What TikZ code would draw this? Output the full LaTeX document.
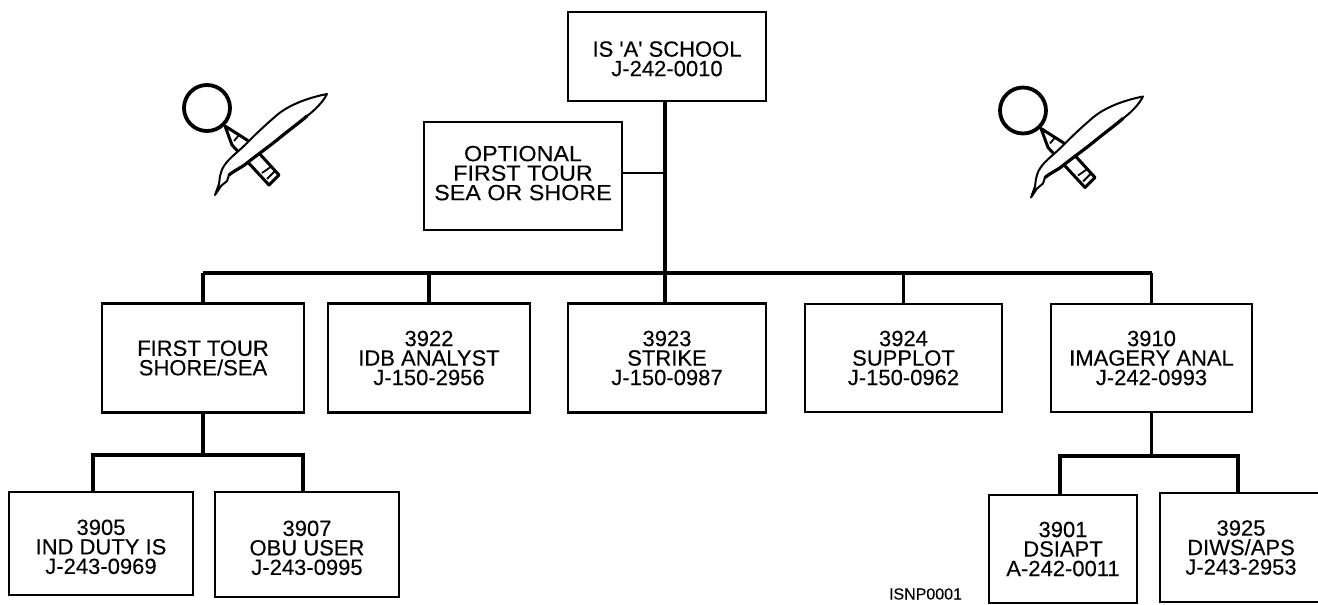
\documentclass[tikz,border=0pt]{standalone}
\usepackage{fontspec}
\setmainfont{Liberation Sans}[FakeBold=0.2]
\newfontfamily\widefont{Liberation Sans}[FakeStretch=1.06,FakeBold=0.2]
\newcommand{\dropline}[1]{\rule{0pt}{#1}}
\tikzset{
    chartbox/.style={draw,line width=2.2pt,inner sep=0pt,outer sep=0pt,align=center,font=\fontsize{22}{19.5}\selectfont},
    trunk/.style={line width=3.4pt,line join=miter},
    thinlink/.style={line width=2.6pt},
    lens/.pic={
        \draw[line width=3pt,line join=round] (18,18) -- (25,37) -- (62,77) -- (72,67) -- (40,32) -- cycle;
        \draw[line width=1.8pt] (27,33) -- (32,27) (55,65) -- (65,58) (60,71) -- (68,63);
        \draw[fill=white,line width=3.8pt] (0,0) circle (23);
        \draw[fill=white,line width=2pt,line join=round] (120,-14) .. controls (100,-10) and (82,-3) .. (70,7) .. controls (55,20) and (50,25) .. (40,35) .. controls (30,45) and (22,50) .. (17,58) .. controls (14,62) and (14,66) .. (13,68) -- (12,76) -- (8,87) -- (14,78) -- (20,73) -- (22,67) .. controls (28,62) and (34,60) .. (40,55) .. controls (50,47) and (60,40) .. (70,32) .. controls (82,22) and (92,15) .. (100,8) .. controls (108,2) and (116,-6) .. cycle;
        \draw[line width=3.2pt,line cap=round] (22,67) .. controls (28,62) and (34,60) .. (40,55) .. controls (50,47) and (60,40) .. (70,32) .. controls (82,22) and (92,15) .. (100,8);
    }
}
\begin{document}
\begin{tikzpicture}[x=1pt,y=-1pt]
    \useasboundingbox (0,0) rectangle (1318,605);
    \node[chartbox,minimum width=198pt,minimum height=89pt] (school) at (667,56.5) {\dropline{20pt}IS \textquotesingle A\textquotesingle{} SCHOOL\\J-242-0010};
    \node[chartbox,minimum width=198pt,minimum height=108pt,text depth=6pt,font=\widefont\fontsize{22}{19.5}\selectfont] (optional) at (523,176) {OPTIONAL\\FIRST TOUR\\SEA OR SHORE};
    \node[chartbox,minimum width=202pt,minimum height=109pt] (tour) at (203,358) {FIRST TOUR\\SHORE/SEA};
    \node[chartbox,minimum width=202pt,minimum height=109pt] (idb) at (429,358) {3922\\IDB ANALYST\\J-150-2956};
    \node[chartbox,minimum width=198pt,minimum height=109pt] (strike) at (667,358) {3923\\STRIKE\\J-150-0987};
    \node[chartbox,minimum width=197pt,minimum height=108pt] (supplot) at (903.5,358) {3924\\SUPPLOT\\J-150-0962};
    \node[chartbox,minimum width=201pt,minimum height=108pt] (imagery) at (1151.5,358) {3910\\IMAGERY ANAL\\J-242-0993};
    \node[chartbox,minimum width=184pt,minimum height=103pt] (duty) at (101,543.5) {\dropline{22pt}3905\\IND DUTY IS\\J-243-0969};
    \node[chartbox,minimum width=184pt,minimum height=105pt] (obu) at (307,544.5) {\dropline{22pt}3907\\OBU USER\\J-243-0995};
    \node[chartbox,minimum width=148pt,minimum height=108pt] (dsiapt) at (1063,549) {3901\\DSIAPT\\A-242-0011};
    \node[chartbox,minimum width=162pt,minimum height=109pt] (diws) at (1241,547.5) {3925\\DIWS/APS\\J-243-2953};
    \node[font=\fontsize{16}{18}\selectfont,inner sep=0pt] (drawcode) at (925.5,594) {ISNP0001};
    \coordinate (bus) at (665,273);
    \coordinate (tourleft) at (93,455);
    \coordinate (tourright) at (303,455);
    \coordinate (imageryleft) at (1060,456);
    \coordinate (imageryright) at (1238,456);
    \draw[trunk] (bus |- school.south) -- (bus |- strike.north);
    \draw[thinlink] (optional.east |- 0,173) -- (bus |- 0,173);
    \draw[trunk] (tour.north |- bus) -- (imagery.north |- bus);
    \foreach \name in {tour,idb,supplot,imagery}
        \draw[trunk] (\name.north) -- (\name.north |- bus);
    \draw[trunk] (tour.south) -- (tour.south |- tourleft);
    \draw[trunk] (tourleft |- duty.north) -- (tourleft) -- (tourright) -- (tourright |- obu.north);
    \draw[trunk] (imagery.south) -- (imagery.south |- imageryleft);
    \draw[trunk] (imageryleft |- dsiapt.north) -- (imageryleft) -- (imageryright) -- (imageryright |- diws.north);
    \pic at (207,108) {lens};
    \pic at (1023,110.5) {lens};
\end{tikzpicture}
\end{document}
